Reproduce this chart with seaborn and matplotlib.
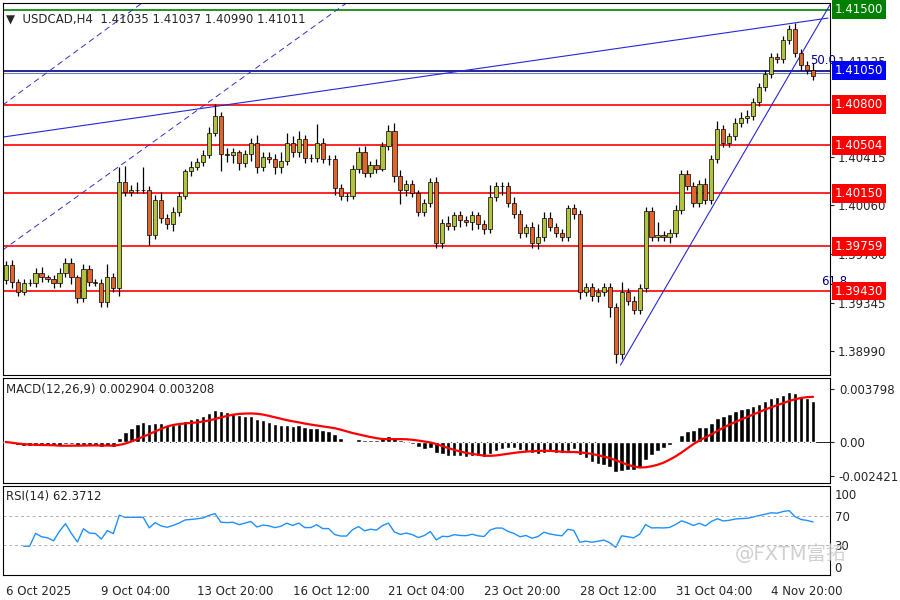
import numpy as np
import pandas as pd
import seaborn as sns
import matplotlib.pyplot as plt
import matplotlib.transforms as mtrans

# ====================== DATA ======================
first_open = 1.39510
closes = [
    1.39620, 1.39500, 1.39420, 1.39490, 1.39490, 1.39560, 1.39530, 1.39520, 1.39490, 1.39560,
    1.39640, 1.39530, 1.39380, 1.39590, 1.39500, 1.39490, 1.39350, 1.39530, 1.39450, 1.40230,
    1.40160, 1.40170, 1.40170, 1.40170, 1.39840, 1.40100, 1.39970, 1.39920, 1.40010, 1.40130,
    1.40310, 1.40340, 1.40380, 1.40430, 1.40590, 1.40720, 1.40440, 1.40430, 1.40450, 1.40370,
    1.40440, 1.40520, 1.40340, 1.40420,
    1.40400, 1.40340, 1.40390, 1.40520, 1.40450, 1.40550, 1.40410, 1.40410, 1.40520, 1.40400,
    1.40400, 1.40190, 1.40130, 1.40130, 1.40330, 1.40450, 1.40300, 1.40360, 1.40330, 1.40500,
    1.40610, 1.40280, 1.40170, 1.40220, 1.40150, 1.40010, 1.40080, 1.40230, 1.39780, 1.39930,
    1.39910, 1.39990, 1.39950, 1.39940, 1.39990, 1.39920, 1.39890, 1.40120, 1.40200, 1.40200,
    1.40080, 1.40000, 1.39860, 1.39900, 1.39780, 1.39830, 1.39970, 1.39900, 1.39860, 1.39830,
    1.40040, 1.40000,
    1.39420, 1.39460, 1.39390, 1.39420, 1.39460, 1.39310, 1.38970, 1.39420, 1.39360, 1.39290,
    1.39450, 1.40020, 1.39830, 1.39840, 1.39830, 1.39860, 1.40030, 1.40290, 1.40200, 1.40080,
    1.40220, 1.40100, 1.40400, 1.40620, 1.40520, 1.40570, 1.40670, 1.40700, 1.40720, 1.40820,
    1.40930, 1.41030, 1.41150, 1.41140, 1.41280, 1.41360, 1.41180, 1.41090, 1.41060, 1.41011,
]
# wick sizes in pips above / below the body
wick_up = [
    3, 4, 2, 3, 3, 4, 5, 2, 3, 4, 3, 3, 2, 4, 3, 2, 3, 10, 3, 11,
    12, 4, 6, 17, 3, 4, 6, 3, 4, 3, 2, 5, 3, 4, 5, 9, 3, 4, 3, 2,
    3, 4, 6, 3, 3, 4, 6, 7, 5, 6, 3, 3, 14, 4, 3, 3, 3, 2, 3, 4,
    5, 3, 4, 3, 4, 6, 4, 3, 3, 2, 3, 3, 4, 3, 5, 2, 3, 3, 3, 2,
    3, 9, 3, 3, 3, 4, 3, 2, 4, 9, 4, 4, 3, 3, 2, 3, 3, 3, 3, 3,
    3, 3, 3, 8, 3, 3, 3, 3, 3, 10, 3, 3, 3, 3, 3, 3, 3, 4, 3, 6,
    3, 2, 3, 5, 4, 3, 3, 3, 3, 3, 3, 3, 4, 3, 3, 5,
]
wick_dn = [
    3, 5, 3, 2, 2, 3, 3, 2, 4, 3, 3, 5, 4, 3, 3, 2, 4, 4, 3, 6,
    3, 3, 2, 2, 7, 3, 4, 3, 5, 3, 2, 3, 2, 3, 2, 2, 13, 5, 6, 5,
    3, 5, 4, 3, 3, 5, 4, 3, 3, 3, 4, 3, 3, 3, 4, 5, 3, 4, 2, 3,
    3, 3, 3, 2, 3, 5, 10, 4, 3, 3, 3, 3, 3, 3, 3, 3, 5, 3, 6, 3,
    4, 3, 3, 6, 3, 3, 4, 3, 3, 4, 3, 3, 3, 3, 3, 4, 5, 3, 3, 4,
    3, 7, 7, 4, 3, 3, 3, 3, 3, 3, 3, 5, 3, 3, 3, 3, 3, 3, 3, 3,
    3, 3, 3, 3, 3, 3, 3, 3, 3, 3, 3, 3, 3, 3, 3, 3,
]

red_levels = [1.40800, 1.40504, 1.40150, 1.39759, 1.39430]
green_level = 1.41500
blue_level = 1.41050
bid_level = 1.41011
plain_ticks = [1.41125, 1.40415, 1.40060, 1.39700, 1.39345, 1.38990]

date_idx = [0, 16, 32, 48, 64, 80, 96, 112, 128]
date_labels = ["6 Oct 2025", "9 Oct 04:00", "13 Oct 20:00", "16 Oct 12:00", "21 Oct 04:00",
               "23 Oct 20:00", "28 Oct 12:00", "31 Oct 04:00", "4 Nov 20:00"]

# drawn objects: (bar index, price) endpoints
dashed_lines = [((-0.5, 1.40799), (22.8, 1.41550)), ((-0.5, 1.39732), (57.0, 1.41550))]
solid_lines = [((-0.5, 1.40563), (137.5, 1.41439)), ((102.8, 1.38885), (137.8, 1.41535))]

# ====================== FRAME ======================
df = pd.DataFrame({"close": closes})
df["open"] = [first_open] + closes[:-1]
df["high"] = df[["open", "close"]].max(axis=1) + np.array(wick_up) * 1e-4
df["low"] = df[["open", "close"]].min(axis=1) - np.array(wick_dn) * 1e-4
df["i"] = np.arange(len(df))

ema12 = df["close"].ewm(span=12, adjust=False).mean()
ema26 = df["close"].ewm(span=26, adjust=False).mean()
df["macd"] = ema12 - ema26
df["signal"] = df["macd"].rolling(9, min_periods=1).mean()
delta = df["close"].diff()
gain = delta.clip(lower=0).ewm(alpha=1 / 14, adjust=True, min_periods=3).mean()
loss = (-delta.clip(upper=0)).ewm(alpha=1 / 14, adjust=True, min_periods=3).mean()
df["rsi"] = 100 - 100 / (1 + gain / loss)

# ====================== PLOT ======================
sns.set_style("white")
plt.rcParams["font.family"] = ["DejaVu Sans", "Noto Sans CJK SC"]
plt.rcParams["font.size"] = 8

fig = plt.figure(figsize=(9, 6), dpi=100)
ax = fig.add_axes([0.003, 0.375, 0.919, 0.62])
ax_m = fig.add_axes([0.003, 0.195, 0.919, 0.175])
ax_r = fig.add_axes([0.003, 0.042, 0.919, 0.148])
xlim = (-0.5, 137.8)

green_c, red_c = "#b3c23c", "#e0642c"
for _, r in df.iterrows():
    up = r["close"] >= r["open"]
    ax.vlines(r["i"], r["low"], r["high"], color="black", lw=0.9, zorder=3)
    h = max(abs(r["close"] - r["open"]), 0.00002)
    ax.bar(r["i"], h, bottom=min(r["open"], r["close"]), width=0.7,
           color=green_c if up else red_c, edgecolor="black", lw=0.5, zorder=4)

for lv in red_levels:
    ax.axhline(lv, color="#ff0000", lw=1.2, zorder=2)
ax.axhline(green_level, color="#008000", lw=1.2, zorder=2)
ax.axhline(blue_level, color="#000080", lw=1.2, zorder=2)
ax.axhline(bid_level + 0.00025, color="#7080b0", lw=0.8, zorder=2)
for (x0, y0), (x1, y1) in dashed_lines:
    ax.plot([x0, x1 + 40], [y0, y1 + (y1 - y0) / (x1 - x0) * 40], color="#3030d0",
            lw=0.7, ls=(0, (6, 4)), zorder=2)
for (x0, y0), (x1, y1) in solid_lines:
    ax.plot([x0, x1], [y0, y1], color="#2828d8", lw=0.8, zorder=2)
ax.text(134.5, 1.41125, "50.0", color="#000080", fontsize=8.5, va="center")
ax.text(136.3, 1.39500, "61.8", color="#000080", fontsize=8.5, va="center")

ax.set_xlim(*xlim)
ax.set_ylim(1.38812, 1.41550)
ax.yaxis.tick_right()
ax.set_yticks(plain_ticks)
ax.set_yticklabels([f"{t:.5f}" for t in plain_ticks])
ax.set_xticks([])
ax.tick_params(axis="y", length=3, pad=3, labelsize=8.5)
trans = mtrans.blended_transform_factory(ax.transAxes, ax.transData)
for lv, col in [(green_level, "#008000"), (blue_level, "#0000ff")] + [(v, "#ff0000") for v in red_levels]:
    ax.text(1.006, lv, f"{lv:.5f}", transform=trans, color="white", fontsize=8.5, va="center",
            bbox=dict(boxstyle="square,pad=0.25", fc=col, ec="none"), zorder=10, clip_on=False)
ax.text(0.004, 0.975, "▼  USDCAD,H4  1.41035 1.41037 1.40990 1.41011", transform=ax.transAxes,
        fontsize=8.5, va="top")

# MACD
ax_m.bar(df["i"], df["macd"], width=0.75, color="black", zorder=3)
sns.lineplot(x=df["i"], y=df["signal"], ax=ax_m, color="#ff0000", lw=1.6, zorder=4)
ax_m.set_xlim(*xlim)
ax_m.set_ylim(-0.00294, 0.00459)
ax_m.yaxis.tick_right()
ax_m.set_yticks([0.003798, 0.0, -0.002421])
ax_m.set_yticklabels(["0.003798", "0.00", "-0.002421"])
ax_m.axhline(0, color="black", lw=0.6)
ax_m.set_xticks([])
ax_m.set_xlabel("")
ax_m.set_ylabel("")
ax_m.tick_params(axis="y", length=3, labelsize=8.5)
ax_m.text(0.004, 0.95, "MACD(12,26,9) 0.002904 0.003208", transform=ax_m.transAxes, fontsize=8.5, va="top")

# RSI
sns.lineplot(x=df["i"], y=df["rsi"], ax=ax_r, color="#1e90ff", lw=1.0)
for lv in [30, 70]:
    ax_r.axhline(lv, color="#b0b0b0", lw=0.7, ls=(0, (3, 3)))
ax_r.set_xlim(*xlim)
ax_r.set_ylim(-11, 111)
ax_r.yaxis.tick_right()
ax_r.set_yticks([100, 70, 30, 0])
ax_r.tick_params(axis="y", length=0, labelsize=8.5)
ax_r.set_ylabel("")
ax_r.set_xlabel("")
ax_r.set_xticks(date_idx)
ax_r.set_xticklabels(date_labels, ha="left", fontsize=8.5)
ax_r.tick_params(axis="x", length=3, pad=4)
ax_r.text(0.004, 0.95, "RSI(14) 62.3712", transform=ax_r.transAxes, fontsize=8.5, va="top")
ax_r.text(1.02, 0.12, "@FXTM富拓", transform=ax_r.transAxes, fontsize=14, ha="right",
          va="bottom", color="#c8c8c8", alpha=0.85, zorder=10, clip_on=False)

for a in (ax, ax_m, ax_r):
    for s in a.spines.values():
        s.set_color("black")
        s.set_linewidth(0.8)

fig.savefig("out.png", dpi=100)
